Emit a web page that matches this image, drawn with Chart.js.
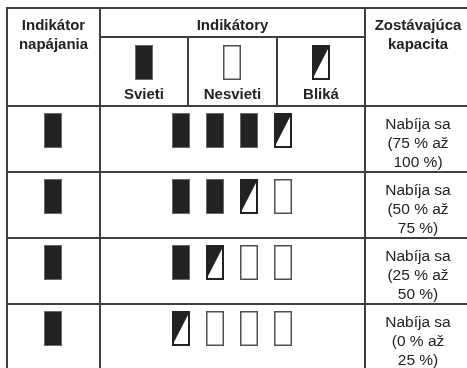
<!DOCTYPE html>
<html>
<head>
<meta charset="utf-8">
<script src="https://cdn.jsdelivr.net/npm/chart.js@4/dist/chart.umd.min.js"></script>
<style>
  html, body { margin: 0; padding: 0; background: #fff; }
  #chart { display: block; }
</style>
</head>
<body>
<canvas id="chart" width="467" height="368" style="width:467px;height:368px"></canvas>
<script>
// ===== Table content =====
const headerLeft = ['Indikátor', 'napájania'];
const headerMiddle = ['Indikátory'];
const headerRight = ['Zostávajúca', 'kapacita'];
const legendLabels = ['Svieti', 'Nesvieti', 'Bliká'];
const legendStates = ['on', 'off', 'blink'];

// power indicator state per row
const powerStates = ['on', 'on', 'on', 'on'];

// 4 battery indicators per row
const indicatorStates = [
    ['on', 'on', 'on', 'blink'],
    ['on', 'on', 'blink', 'off'],
    ['on', 'blink', 'off', 'off'],
    ['blink', 'off', 'off', 'off']
];

const capacityLabels = [
    ['Nabíja sa', '(75 % až', '100 %)'],
    ['Nabíja sa', '(50 % až', '75 %)'],
    ['Nabíja sa', '(25 % až', '50 %)'],
    ['Nabíja sa', '(0 % až', '25 %)']
];

// ===== Layout (in canvas units, scales map 1:1) =====
const W = 467, H = 368;
const colX = { left: 7, power: 100, sub1: 188, sub2: 277, cap: 365, right: 471 };
const rowY = { top: 8, sub: 37, head: 106, height: 66 };
const ICON_W = 18, ICON_H = 35;
const ICON_GAP = 34;
const LINE_COLOR = '#3f3f3f';
const INK = '#222222';
const BOLD = 'bold 15px "Liberation Sans", Arial, sans-serif';
const REGULAR = '15.5px "Liberation Sans", Arial, sans-serif';

function rowTop(i) { return rowY.head + i * rowY.height; }

// ===== Icon images used as point styles =====
function makeIcon(state) {
    const c = document.createElement('canvas');
    c.width = ICON_W;
    c.height = ICON_H;
    const g = c.getContext('2d');
    if (state === 'on') {
        g.fillStyle = INK;
        g.fillRect(0, 0, ICON_W, ICON_H);
        g.strokeStyle = '#6a6a6a';
        g.lineWidth = 1;
        g.strokeRect(0.5, 0.5, ICON_W - 1, ICON_H - 1);
    } else if (state === 'off') {
        g.fillStyle = '#fff';
        g.fillRect(0, 0, ICON_W, ICON_H);
        g.strokeStyle = '#505050';
        g.lineWidth = 1.5;
        g.strokeRect(0.75, 0.75, ICON_W - 1.5, ICON_H - 1.5);
    } else {
        g.fillStyle = '#fff';
        g.fillRect(0, 0, ICON_W, ICON_H);
        g.fillStyle = INK;
        g.beginPath();
        g.moveTo(0, 0);
        g.lineTo(ICON_W, 0);
        g.lineTo(0, ICON_H);
        g.closePath();
        g.fill();
        g.strokeStyle = INK;
        g.lineWidth = 2;
        g.strokeRect(1, 1, ICON_W - 2, ICON_H - 2);
    }
    return c;
}

const icons = { on: makeIcon('on'), off: makeIcon('off'), blink: makeIcon('blink') };

// ===== Build point datasets from the state arrays =====
// centres floored so the icon images land on whole pixels
const powerPoints = powerStates.map((s, i) => ({
    x: Math.floor((colX.left + colX.power) / 2),
    y: rowTop(i) + 24.5,
    state: s
}));

const midX = (colX.power + colX.cap) / 2;
const indicatorPoints = [];
indicatorStates.forEach((row, i) => {
    row.forEach((s, j) => {
        indicatorPoints.push({
            x: Math.floor(midX + (j - (row.length - 1) / 2) * ICON_GAP),
            y: rowTop(i) + 24.5,
            state: s
        });
    });
});

const legendCols = [[colX.power, colX.sub1], [colX.sub1, colX.sub2], [colX.sub2, colX.cap]];
const legendPoints = legendStates.map((s, i) => ({
    x: Math.floor((legendCols[i][0] + legendCols[i][1]) / 2),
    y: 62.5,
    state: s
}));

function iconDataset(points) {
    return {
        type: 'scatter',
        data: points,
        pointStyle: ctx => icons[ctx.raw ? ctx.raw.state : 'on'],
        pointRadius: 10,
        pointHoverRadius: 10,
        clip: false
    };
}

// ===== Table grid + text plugin =====
const tablePlugin = {
    id: 'tableGrid',
    beforeDatasetsDraw(chart) {
        const { ctx, scales: { x, y } } = chart;
        const seg = (x1, y1, x2, y2) => {
            ctx.moveTo(x.getPixelForValue(x1), y.getPixelForValue(y1));
            ctx.lineTo(x.getPixelForValue(x2), y.getPixelForValue(y2));
        };
        ctx.save();
        ctx.strokeStyle = LINE_COLOR;
        ctx.lineWidth = 2;
        ctx.beginPath();
        seg(colX.left - 1, rowY.top, W, rowY.top);
        seg(colX.left, rowY.top, colX.left, H);
        seg(colX.power, rowY.top, colX.power, H);
        seg(colX.cap, rowY.top, colX.cap, H);
        seg(colX.power, rowY.sub, colX.cap, rowY.sub);
        seg(colX.sub1, rowY.sub, colX.sub1, rowY.head);
        seg(colX.sub2, rowY.sub, colX.sub2, rowY.head);
        for (let i = 0; i < capacityLabels.length; i++) {
            seg(colX.left, rowTop(i), W, rowTop(i));
        }
        ctx.stroke();
        ctx.restore();
    },
    afterDraw(chart) {
        const { ctx, scales: { x, y } } = chart;
        const text = (t, cx, by) => ctx.fillText(t, x.getPixelForValue(cx), y.getPixelForValue(by));
        ctx.save();
        ctx.fillStyle = INK;
        ctx.textAlign = 'center';
        ctx.textBaseline = 'alphabetic';

        ctx.font = BOLD;
        headerLeft.forEach((t, k) => text(t, (colX.left + colX.power) / 2, 29.5 + k * 19));
        headerMiddle.forEach((t, k) => text(t, midX, 29.5 + k * 19));
        headerRight.forEach((t, k) => text(t, (colX.cap + colX.right) / 2, 29.5 + k * 19));
        legendLabels.forEach((t, i) => text(t, (legendCols[i][0] + legendCols[i][1]) / 2, 98.5));

        ctx.font = REGULAR;
        capacityLabels.forEach((lines, i) => {
            lines.forEach((t, k) => text(t, (colX.cap + colX.right) / 2, rowTop(i) + 22.7 + k * 19));
        });
        ctx.restore();
    }
};

new Chart(document.getElementById('chart'), {
    type: 'scatter',
    data: {
        datasets: [
            iconDataset(legendPoints),
            iconDataset(powerPoints),
            iconDataset(indicatorPoints)
        ]
    },
    options: {
        responsive: false,
        devicePixelRatio: 1,
        animation: false,
        events: [],
        layout: { padding: 0, autoPadding: false },
        scales: {
            x: { type: 'linear', min: 0, max: W, display: false },
            y: { type: 'linear', min: 0, max: H, reverse: true, display: false }
        },
        plugins: {
            legend: { display: false },
            tooltip: { enabled: false }
        }
    },
    plugins: [tablePlugin]
});
</script>
</body>
</html>
